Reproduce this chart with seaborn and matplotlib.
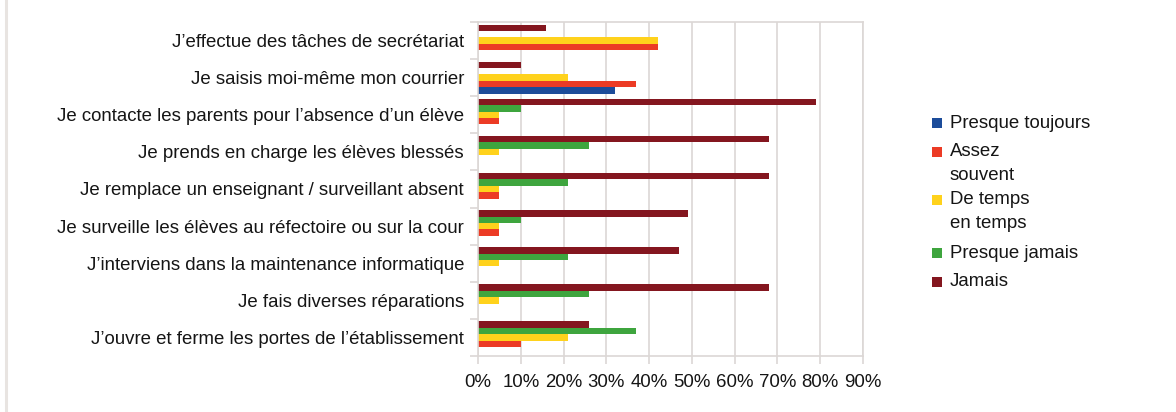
import matplotlib
matplotlib.use("Agg")
import matplotlib.pyplot as plt
from matplotlib.patches import Rectangle
from matplotlib.lines import Line2D
import numpy as np
import pandas as pd
import seaborn as sns

# Survey items (top to bottom)
tasks = [
    "J\u2019effectue des tâches de secrétariat",
    "Je saisis moi-même mon courrier",
    "Je contacte les parents pour l\u2019absence d\u2019un élève",
    "Je prends en charge les élèves blessés",
    "Je remplace un enseignant / surveillant absent",
    "Je surveille les élèves au réfectoire ou sur la cour",
    "J\u2019interviens dans la maintenance informatique",
    "Je fais diverses réparations",
    "J\u2019ouvre et ferme les portes de l\u2019établissement",
]

# Answer frequencies (%) per item
presque_toujours = [0, 32, 0, 0, 0, 0, 0, 0, 0]
assez_souvent = [42, 37, 5, 0, 5, 5, 0, 0, 10]
de_temps_en_temps = [42, 21, 5, 5, 5, 5, 5, 5, 21]
presque_jamais = [0, 0, 10, 26, 21, 10, 21, 26, 37]
jamais = [16, 10, 79, 68, 68, 49, 47, 68, 26]

series_names = ["Presque toujours", "Assez souvent", "De temps en temps",
                "Presque jamais", "Jamais"]
legend_labels = ["Presque toujours", "Assez\nsouvent", "De temps\nen temps",
                 "Presque jamais", "Jamais"]
series_values = [presque_toujours, assez_souvent, de_temps_en_temps,
                 presque_jamais, jamais]
colors = ["#1c4c9a", "#ec3b25", "#ffd21c", "#3ea53e", "#84161f"]
x_ticks = [0, 10, 20, 30, 40, 50, 60, 70, 80, 90]

rows = []
for name, vals in zip(series_names, series_values):
    for t, v in zip(tasks, vals):
        rows.append({"task": t, "answer": name, "value": v})
df = pd.DataFrame(rows)

sns.set_theme(style="white")
plt.rcParams["font.family"] = ["Liberation Sans", "DejaVu Sans"]

FS = 13.4
TXT = "#151515"
W, H = 1176, 412
fig = plt.figure(figsize=(W / 100, H / 100), dpi=100)
ax = fig.add_axes([478 / W, 1 - 356 / H, (863 - 478) / W, (356 - 22) / H])

hue_order = series_names[::-1]  # Jamais drawn on top within each group
palette = dict(zip(series_names, colors))
sns.barplot(data=df, y="task", x="value", hue="answer", order=tasks,
            hue_order=hue_order, palette=palette, orient="h", width=0.86,
            linewidth=0, saturation=1, legend=False, ax=ax)

grid_c = "#dcd7d5"
ax.set_xlim(0, 90)
ax.set_ylim(len(tasks) - 0.5, -0.5)
ax.set_xticks(x_ticks)
ax.set_xticklabels([f"{v}%" for v in x_ticks])
ax.set_xlabel("")
ax.set_ylabel("")
ax.grid(axis="x", color=grid_c, linewidth=1.2)
ax.set_axisbelow(True)
for side in ["top", "right", "bottom", "left"]:
    ax.spines[side].set_visible(True)
    ax.spines[side].set_color(grid_c)
    ax.spines[side].set_linewidth(1.2)

ax.set_yticks(np.arange(len(tasks)))
ax.set_yticklabels(tasks)
ax.set_yticks(np.arange(len(tasks) + 1) - 0.5, minor=True)
ax.tick_params(axis="y", which="major", length=0, pad=10, labelsize=FS,
               labelcolor=TXT)
ax.tick_params(axis="y", which="minor", length=6, width=1.2, color=grid_c,
               left=True)
ax.tick_params(axis="x", length=6, width=1.2, color=grid_c, bottom=True,
               pad=7, labelsize=FS, labelcolor=TXT)

# Legend with the swatch aligned to the first line of each label
leg_x = 932
leg_y = [123, 152, 200, 253, 282]
line_step = 23.5
for lab, c, y in zip(legend_labels, colors, leg_y):
    fig.patches.append(Rectangle((leg_x / W, 1 - (y + 5) / H), 10 / W, 10 / H,
                                 transform=fig.transFigure, facecolor=c,
                                 edgecolor="none"))
    for i, part in enumerate(lab.split("\n")):
        fig.text((leg_x + 18) / W, 1 - (y + i * line_step) / H, part,
                 ha="left", va="center", fontsize=FS, color=TXT)

# Thin frame line along the left edge
fig.add_artist(Line2D([5.5 / W, 5.5 / W], [0, 1], transform=fig.transFigure,
                      color="#e8e4e1", linewidth=2.2))

fig.savefig("out.png", dpi=100, facecolor="white")
